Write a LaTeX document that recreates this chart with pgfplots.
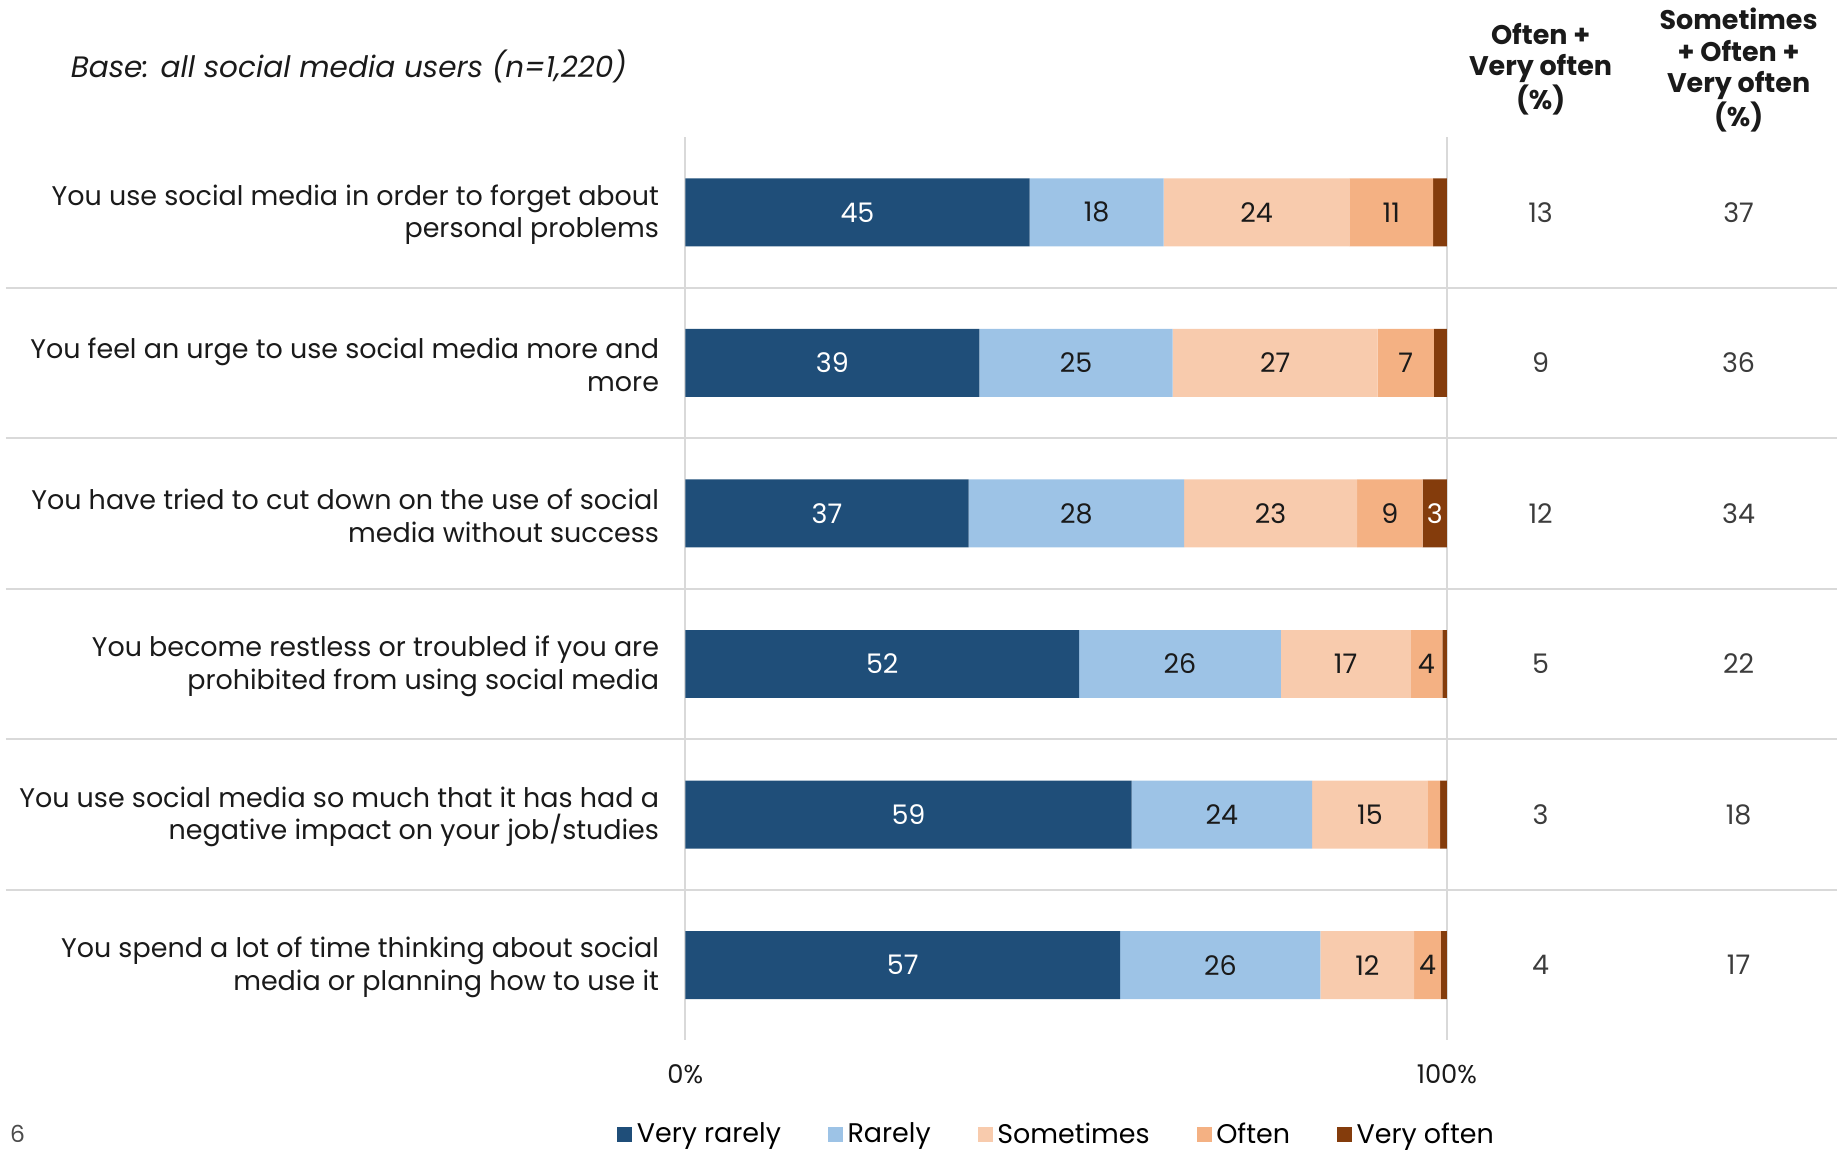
\documentclass[border=0pt]{standalone}
\usepackage{fontspec}
\setmainfont{Poppins}
\usepackage{pgfplots}
\pgfplotsset{compat=1.18}
\definecolor{vrare}{HTML}{1F4E79}
\definecolor{rare}{HTML}{9DC3E6}
\definecolor{some}{HTML}{F8CBAD}
\definecolor{often}{HTML}{F4B183}
\definecolor{voften}{HTML}{843C0C}
\definecolor{txt}{HTML}{1A1A1A}
\definecolor{gridc}{HTML}{D9D9D9}
\tikzset{cl/.style={font=\fontsize{11.5}{14}\selectfont, text=txt, anchor=east, align=right, inner sep=0pt}}
\pgfplotsset{common/.style={
  at={(0pt,0pt)}, anchor=south west,
  scale only axis, width=781.5pt, height=385.5pt,
  xmin=-89.23, xmax=151.23, ymin=-0.5, ymax=5.5,
  y dir=reverse, clip=false}}
\begin{document}
\begin{tikzpicture}
\useasboundingbox (-2.5pt,-46.5pt) rectangle (781.5pt,444pt);
\begin{axis}[
  common,
  xbar stacked, bar width=29pt,
  axis line style={draw=none},
  major tick style={draw=none},
  xtick={0,100}, xticklabels={0\%,100\%},
  xticklabel style={font=\fontsize{11}{13}\selectfont, text=txt, yshift=-7pt},
  ytick={0.5,1.5,2.5,3.5,4.5}, yticklabels={},
  xmajorgrids, ymajorgrids,
  major grid style={gridc, line width=0.8pt},
  legend style={at={(0.5745,-0.1045)}, anchor=center, draw=none, fill=none,
    legend columns=-1, font=\fontsize{11.5}{13}\selectfont,
    /tikz/every even column/.append style={column sep=18pt},
    /tikz/every odd column/.append style={column sep=0pt}},
  legend image code/.code={\fill[#1] (0pt,-3.2pt) rectangle (6.4pt,3.2pt);},
]
\addplot[fill=vrare, draw=none] coordinates {(45.2,0) (38.6,1) (37.2,2) (51.7,3) (58.6,4) (57.1,5)};
\addplot[fill=rare, draw=none] coordinates {(17.6,0) (25.4,1) (28.3,2) (26.5,3) (23.7,4) (26.3,5)};
\addplot[fill=some, draw=none] coordinates {(24.4,0) (26.9,1) (22.7,2) (17.0,3) (15.2,4) (12.3,5)};
\addplot[fill=often, draw=none] coordinates {(11.0,0) (7.4,1) (8.6,2) (4.2,3) (1.6,4) (3.5,5)};
\addplot[fill=voften, draw=none] coordinates {(1.8,0) (1.7,1) (3.2,2) (0.6,3) (0.9,4) (0.8,5)};
\legend{Very rarely, Rarely, Sometimes, Often, Very often}
% category labels
\node[cl] at (axis cs:-3.4,0.015) {You use social media in order to forget about\\personal problems};
\node[cl] at (axis cs:-3.4,1.015) {You feel an urge to use social media more and\\more};
\node[cl] at (axis cs:-3.4,2.015) {You have tried to cut down on the use of social\\media without success};
\node[cl] at (axis cs:-3.4,3.015) {You become restless or troubled if you are\\prohibited from using social media};
\node[cl] at (axis cs:-3.4,4.015) {You use social media so much that it has had a\\negative impact on your job/studies};
\node[cl] at (axis cs:-3.4,5.015) {You spend a lot of time thinking about social\\media or planning how to use it};
\end{axis}
\begin{axis}[common, hide axis,
  nodes near coords, point meta=explicit symbolic,
  every node near coord/.append style={anchor=center, font=\fontsize{11.5}{13}\selectfont}]
\addplot[only marks, mark=none, nodes near coords style={text=white}] coordinates {
  (22.6,0) [45] (19.3,1) [39] (18.6,2) [37] (25.85,3) [52] (29.3,4) [59] (28.55,5) [57] (98.4,2) [3]};
\addplot[only marks, mark=none, nodes near coords style={text=txt}] coordinates {
  (54.0,0) [18] (75.0,0) [24] (92.7,0) [11]
  (51.3,1) [25] (77.45,1) [27] (94.6,1) [7]
  (51.35,2) [28] (76.85,2) [23] (92.5,2) [9]
  (64.95,3) [26] (86.7,3) [17] (97.3,3) [4]
  (70.45,4) [24] (89.9,4) [15]
  (70.25,5) [26] (89.55,5) [12] (97.45,5) [4]};
\addplot[only marks, mark=none, nodes near coords style={text=txt!85}] coordinates {
  (112.3,0) [13] (112.3,1) [9] (112.3,2) [12] (112.3,3) [5] (112.3,4) [3] (112.3,5) [4]
  (138.3,0) [37] (138.3,1) [36] (138.3,2) [34] (138.3,3) [22] (138.3,4) [18] (138.3,5) [17]};
\end{axis}
\node[anchor=west, inner sep=0pt, font=\fontsize{12.6}{14}\selectfont\itshape, text=txt] at (27.5pt,415.5pt) {Base: all social media users (n=1,220)};
\node[align=center, font=\fontsize{11.5}{13.5}\selectfont\bfseries, text=txt] at (655pt,414.5pt) {Often +\\Very often\\(\%)};
\node[align=center, font=\fontsize{11.5}{13.5}\selectfont\bfseries, text=txt] at (739.5pt,414pt) {Sometimes\\+ Often +\\Very often\\(\%)};
\node[inner sep=0pt, font=\fontsize{10}{11}\selectfont, text=black!70] at (5pt,-40pt) {6};
\end{tikzpicture}
\end{document}
